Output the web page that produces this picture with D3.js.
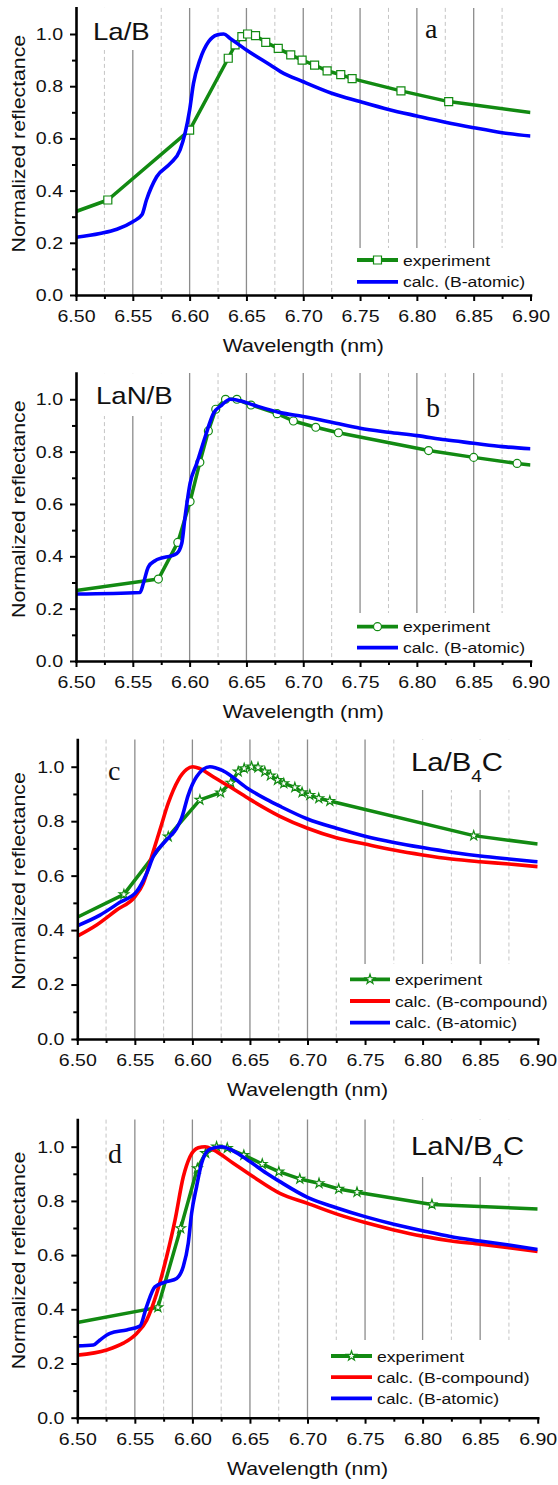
<!DOCTYPE html>
<html>
<head>
<meta charset="utf-8">
<script src="https://cdn.jsdelivr.net/npm/d3@7"></script>
<style>
  body { margin: 0; background: #fff; }
  text { font-family: "Liberation Sans", Arial, sans-serif; }
  text.letter { font-family: "Liberation Serif", "Times New Roman", serif; }
</style>
</head>
<body>
<script>
// tick values
const xTicks = [6.50, 6.55, 6.60, 6.65, 6.70, 6.75, 6.80, 6.85, 6.90];
const xMinorTicks = [6.525, 6.575, 6.625, 6.675, 6.725, 6.775, 6.825, 6.875];
const yTicks = [0.0, 0.2, 0.4, 0.6, 0.8, 1.0];
const yMinorTicks = [0.1, 0.3, 0.5, 0.7, 0.9];

// (a) La/B  -- [wavelength nm, normalized reflectance]
const expA = [[6.50,0.320],[6.528,0.364],[6.600,0.632],[6.634,0.907],[6.640,0.958],[6.646,0.990],[6.651,1.000],
  [6.658,0.994],[6.667,0.968],[6.678,0.945],[6.689,0.920],[6.699,0.900],[6.710,0.881],[6.721,0.859],[6.733,0.844],
  [6.743,0.829],[6.786,0.782],[6.828,0.741],[6.90,0.699]];
const atomA = [[6.50,0.221],[6.521,0.236],[6.536,0.252],[6.550,0.281],[6.558,0.307],[6.562,0.364],[6.571,0.453],
  [6.583,0.504],[6.5916,0.556],[6.596,0.620],[6.600,0.709],[6.6034,0.811],[6.609,0.900],[6.6166,0.970],[6.624,0.996],
  [6.630,1.000],[6.6357,0.983],[6.650,0.939],[6.671,0.881],[6.680,0.856],[6.70,0.817],[6.725,0.773],[6.75,0.741],
  [6.775,0.711],[6.80,0.686],[6.825,0.662],[6.85,0.641],[6.875,0.622],[6.90,0.609]];

// (b) LaN/B
const expB = [[6.50,0.269],[6.5725,0.313],[6.5896,0.453],[6.6004,0.609],[6.609,0.759],[6.6165,0.879],[6.623,0.962],
  [6.6316,1.000],[6.6416,1.000],[6.654,0.978],[6.677,0.945],[6.6913,0.917],[6.711,0.893],[6.731,0.872],[6.8103,0.804],
  [6.850,0.778],[6.8882,0.755],[6.90,0.749]];
const atomB = [[6.50,0.256],[6.5564,0.262],[6.5593,0.297],[6.5637,0.360],[6.5696,0.383],[6.5887,0.411],[6.5931,0.450],
  [6.596,0.551],[6.6004,0.679],[6.6063,0.755],[6.6137,0.857],[6.621,0.946],[6.6283,0.978],[6.6357,1.000],[6.6445,0.994],
  [6.6562,0.978],[6.6797,0.949],[6.70,0.934],[6.725,0.912],[6.75,0.889],[6.775,0.874],[6.80,0.861],[6.825,0.845],
  [6.85,0.832],[6.875,0.819],[6.90,0.811]];

// (c) La/B4C
const expC = [[6.50,0.447],[6.5405,0.531],[6.579,0.743],[6.6065,0.878],[6.6245,0.905],[6.6334,0.941],[6.6398,0.982],
  [6.645,0.994],[6.6514,1.000],[6.657,0.997],[6.6629,0.982],[6.6678,0.967],[6.6739,0.951],[6.6794,0.939],[6.689,0.924],
  [6.6953,0.906],[6.702,0.896],[6.7098,0.884],[6.7194,0.874],[6.8444,0.747],[6.90,0.716]];
const compC = [[6.50,0.378],[6.5168,0.419],[6.5342,0.474],[6.5501,0.523],[6.5573,0.572],[6.5646,0.670],[6.5718,0.768],
  [6.579,0.866],[6.5877,0.951],[6.595,0.990],[6.6002,1.000],[6.6065,0.993],[6.618,0.963],[6.635,0.920],[6.650,0.880],
  [6.676,0.818],[6.70,0.774],[6.725,0.739],[6.75,0.716],[6.775,0.694],[6.80,0.676],[6.825,0.661],[6.85,0.651],
  [6.875,0.643],[6.90,0.633]];
const atomC = [[6.50,0.416],[6.5197,0.455],[6.537,0.502],[6.5515,0.541],[6.5602,0.608],[6.566,0.670],[6.5776,0.731],
  [6.5863,0.774],[6.5906,0.811],[6.5964,0.896],[6.6036,0.963],[6.6152,1.000],[6.6267,0.985],[6.647,0.923],[6.6644,0.880],
  [6.676,0.855],[6.70,0.808],[6.725,0.774],[6.75,0.745],[6.775,0.722],[6.80,0.703],[6.825,0.686],[6.85,0.672],
  [6.875,0.661],[6.90,0.651]];

// (d) LaN/B4C
const expD = [[6.50,0.351],[6.570,0.407],[6.5898,0.699],[6.6043,0.920],[6.6115,0.976],[6.621,1.000],[6.6303,0.995],
  [6.6447,0.969],[6.6607,0.936],[6.6751,0.908],[6.6933,0.881],[6.710,0.865],[6.7271,0.844],[6.743,0.832],[6.8081,0.787],
  [6.90,0.770]];
const compD = [[6.50,0.231],[6.5255,0.250],[6.540,0.275],[6.5516,0.311],[6.5603,0.360],[6.569,0.459],[6.5776,0.594],
  [6.5849,0.729],[6.5921,0.889],[6.5979,0.963],[6.6051,0.996],[6.611,1.000],[6.6182,0.988],[6.6355,0.939],[6.6529,0.889],
  [6.676,0.828],[6.70,0.791],[6.725,0.752],[6.75,0.720],[6.775,0.693],[6.80,0.670],[6.825,0.652],[6.85,0.640],
  [6.875,0.627],[6.90,0.613]];
const atomD = [[6.50,0.265],[6.514,0.268],[6.5197,0.287],[6.5284,0.311],[6.5429,0.324],[6.5544,0.338],[6.5602,0.410],
  [6.5674,0.483],[6.5776,0.502],[6.5863,0.514],[6.592,0.557],[6.5964,0.644],[6.5993,0.754],[6.6036,0.852],[6.608,0.939],
  [6.6152,0.991],[6.6253,1.000],[6.6354,0.985],[6.6499,0.945],[6.6644,0.902],[6.676,0.871],[6.70,0.813],[6.725,0.775],
  [6.75,0.742],[6.775,0.714],[6.80,0.690],[6.825,0.668],[6.85,0.652],[6.875,0.637],[6.90,0.621]];

const GREEN = '#128a12', RED = '#ff0000', BLUE = '#0000ff';
const STRETCH = 1.15;   // the original glyphs are a bit wider than Arial

const width = 558, height = 1485;
const svg = d3.select('body').append('svg')
  .attr('width', width)
  .attr('height', height);

// widen text horizontally to match the reference
function stretch(sel, k) {
  sel.each(function() {
    const w = this.getComputedTextLength();
    d3.select(this).attr('textLength', w * k).attr('lengthAdjust', 'spacingAndGlyphs');
  });
}

const panels = [
  {id: 'a', left: 76, right: 530.5, top: 7.9, bottom: 295,
   title: [{t: 'La/B'}], titleX: 93, titleY: 40, titleSize: 24, titleCover: [84, 157, 50],
   letterX: 425, letterY: 38,
   exp: expA, symbol: d3.symbolSquare, symSize: 64,
   calc: [{data: atomA, color: BLUE, name: 'calc. (B-atomic)'}],
   legX: 357, legY: 260, legStep: 21.8, legLen: 41, legCover: [347, 248]},
  {id: 'b', left: 76, right: 530.5, top: 373.1, bottom: 661,
   title: [{t: 'LaN/B'}], titleX: 96, titleY: 404, titleSize: 24, titleCover: [84, 177, 416],
   letterX: 426, letterY: 416.5,
   exp: expB, symbol: d3.symbolCircle, symSize: 50,
   calc: [{data: atomB, color: BLUE, name: 'calc. (B-atomic)'}],
   legX: 357, legY: 626.7, legStep: 21, legLen: 41, legCover: [345, 613]},
  {id: 'c', left: 77.3, right: 537.7, top: 739.5, bottom: 1039,
   title: [{t: 'La/B'}, {t: '4', sub: true}, {t: 'C'}], titleX: 411, titleY: 771, titleSize: 25.5, titleCover: [404, 517, 790],
   letterX: 108, letterY: 780,
   exp: expC, symbol: d3.symbolStar, symSize: 28,
   calc: [{data: compC, color: RED, name: 'calc. (B-compound)'}, {data: atomC, color: BLUE, name: 'calc. (B-atomic)'}],
   legX: 350, legY: 979.3, legStep: 21.7, legLen: 40, legCover: [345, 964]},
  {id: 'd', left: 77.3, right: 537.7, top: 1119.6, bottom: 1417.7,
   title: [{t: 'LaN/B'}, {t: '4', sub: true}, {t: 'C'}], titleX: 411, titleY: 1155, titleSize: 25.5, titleCover: [404, 525, 1177],
   letterX: 108, letterY: 1163,
   exp: expD, symbol: d3.symbolStar, symSize: 28,
   calc: [{data: compD, color: RED, name: 'calc. (B-compound)'}, {data: atomD, color: BLUE, name: 'calc. (B-atomic)'}],
   legX: 331, legY: 1356, legStep: 21.2, legLen: 41, legCover: [325, 1340]}
];

panels.forEach(p => {
  const x = d3.scaleLinear().domain([6.50, 6.90]).range([p.left, p.right]);
  const y = d3.scaleLinear().domain([0, 1.1]).range([p.bottom, p.top]);
  const g = svg.append('g').attr('class', 'panel-' + p.id);

  svg.append('clipPath').attr('id', 'clip-' + p.id)
    .append('rect')
    .attr('x', p.left).attr('y', p.top)
    .attr('width', p.right - p.left).attr('height', p.bottom - p.top);

  // vertical grid lines
  g.selectAll('.grid-major')
    .data(xTicks.slice(1, -1))
    .enter().append('line')
    .attr('x1', d => x(d)).attr('x2', d => x(d))
    .attr('y1', p.top).attr('y2', p.bottom)
    .attr('stroke', '#8c8c8c')
    .attr('stroke-width', 1.3);
  g.selectAll('.grid-minor')
    .data(xMinorTicks)
    .enter().append('line')
    .attr('x1', d => x(d)).attr('x2', d => x(d))
    .attr('y1', p.top).attr('y2', p.bottom)
    .attr('stroke', '#c4c4c4')
    .attr('stroke-width', 1)
    .attr('stroke-dasharray', '4,3');

  // white boxes behind the title and the legend
  g.append('rect')
    .attr('x', p.titleCover[0]).attr('y', p.top)
    .attr('width', p.titleCover[1] - p.titleCover[0]).attr('height', p.titleCover[2] - p.top)
    .attr('fill', '#fff');
  g.append('rect')
    .attr('x', p.legCover[0]).attr('y', p.legCover[1])
    .attr('width', p.right - p.legCover[0]).attr('height', p.bottom - p.legCover[1])
    .attr('fill', '#fff');

  const plot = g.append('g').attr('clip-path', `url(#clip-${p.id})`);

  // experiment: straight segments + open markers
  const expLine = d3.line().x(d => x(d[0])).y(d => y(d[1]));
  plot.append('path')
    .datum(p.exp)
    .attr('d', expLine)
    .attr('fill', 'none')
    .attr('stroke', GREEN)
    .attr('stroke-width', 3.5)
    .attr('stroke-linejoin', 'round');
  const sym = d3.symbol(p.symbol, p.symSize);
  g.selectAll('.marker')
    .data(p.exp.filter(d => d[0] > 6.50 && d[0] < 6.90))
    .enter().append('path')
    .attr('class', 'marker')
    .attr('transform', d => `translate(${x(d[0])},${y(d[1])})`)
    .attr('d', sym())
    .attr('fill', '#fff')
    .attr('stroke', GREEN)
    .attr('stroke-width', 1.2);

  // calculated curves
  const calcLine = d3.line().x(d => x(d[0])).y(d => y(d[1])).curve(d3.curveMonotoneX);
  p.calc.forEach(c => {
    g.append('path')
      .datum(c.data)
      .attr('clip-path', `url(#clip-${p.id})`)
      .attr('d', calcLine)
      .attr('fill', 'none')
      .attr('stroke', c.color)
      .attr('stroke-width', 3.6)
      .attr('stroke-linejoin', 'round');
  });

  // axes
  const xAxis = g.append('g')
    .attr('transform', `translate(0,${p.bottom})`)
    .call(d3.axisBottom(x).tickValues(xTicks).tickFormat(d3.format('.2f'))
      .tickSize(6).tickSizeOuter(0).tickPadding(9));
  g.append('g')
    .attr('transform', `translate(0,${p.bottom})`)
    .call(d3.axisBottom(x).tickValues(xMinorTicks).tickFormat('').tickSize(4).tickSizeOuter(0))
    .call(a => a.select('.domain').remove())
    .selectAll('line').attr('stroke-width', 2);
  const yAxis = g.append('g')
    .attr('transform', `translate(${p.left},0)`)
    .call(d3.axisLeft(y).tickValues(yTicks).tickFormat(d3.format('.1f'))
      .tickSize(6).tickSizeOuter(0).tickPadding(7));
  g.append('g')
    .attr('transform', `translate(${p.left},0)`)
    .call(d3.axisLeft(y).tickValues(yMinorTicks).tickFormat('').tickSize(4).tickSizeOuter(0))
    .call(a => a.select('.domain').remove())
    .selectAll('line').attr('stroke-width', 2);

  [xAxis, yAxis].forEach(a => {
    a.select('.domain').attr('stroke-width', 2.6).attr('stroke-linecap', 'square');
    a.selectAll('.tick line').attr('stroke-width', 2);
    a.selectAll('.tick text')
      .attr('font-size', 17)
      .attr('fill', '#111')
      .call(stretch, STRETCH);
  });

  // axis titles
  g.append('text')
    .attr('x', x(6.70)).attr('y', p.bottom + 57)
    .attr('text-anchor', 'middle')
    .attr('font-size', 18.5)
    .attr('fill', '#111')
    .text('Wavelength (nm)')
    .call(stretch, STRETCH);
  g.append('text')
    .attr('transform', `translate(25,${y(0.58)}) rotate(-90)`)
    .attr('text-anchor', 'middle')
    .attr('font-size', 18.5)
    .attr('fill', '#111')
    .text('Normalized reflectance')
    .call(stretch, STRETCH);

  // sample title (with subscript) and panel letter
  const title = g.append('text')
    .attr('transform', `translate(${p.titleX},${p.titleY}) scale(${STRETCH},1)`)
    .attr('font-size', p.titleSize)
    .attr('fill', '#111');
  let shifted = false;
  p.title.forEach(part => {
    const ts = title.append('tspan').text(part.t);
    if (part.sub) { ts.attr('font-size', 16.5).attr('dy', 11); shifted = true; }
    else if (shifted) { ts.attr('dy', -11); shifted = false; }
  });
  g.append('text')
    .attr('class', 'letter')
    .attr('x', p.letterX).attr('y', p.letterY)
    .attr('font-size', 28)
    .attr('fill', '#111')
    .text(p.id);

  // legend
  const items = [{name: 'experiment', color: GREEN, marker: true}]
    .concat(p.calc.map(c => ({name: c.name, color: c.color, marker: false})));
  const leg = g.append('g').attr('class', 'legend');
  items.forEach((it, i) => {
    const ly = p.legY + i * p.legStep;
    leg.append('line')
      .attr('x1', p.legX).attr('x2', p.legX + p.legLen)
      .attr('y1', ly).attr('y2', ly)
      .attr('stroke', it.color)
      .attr('stroke-width', 3.8);
    if (it.marker) {
      leg.append('path')
        .attr('transform', `translate(${p.legX + p.legLen / 2},${ly})`)
        .attr('d', sym())
        .attr('fill', '#fff')
        .attr('stroke', GREEN)
        .attr('stroke-width', 1.2);
    }
    leg.append('text')
      .attr('x', p.legX + p.legLen + 5).attr('y', ly + 5.5)
      .attr('font-size', 15.3)
      .attr('fill', '#111')
      .text(it.name)
      .call(stretch, STRETCH);
  });
});
</script>
</body>
</html>
